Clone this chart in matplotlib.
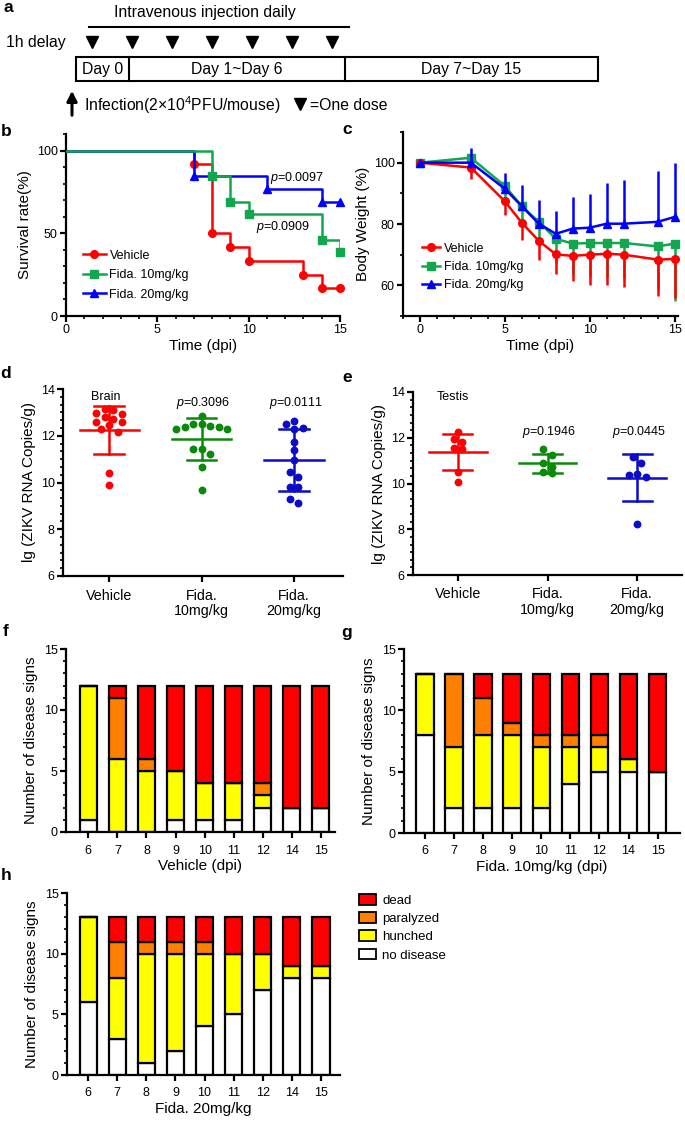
import numpy as np
import matplotlib
matplotlib.use("Agg")
import matplotlib.pyplot as plt
from matplotlib.patches import Rectangle, Patch
from matplotlib.lines import Line2D
from matplotlib.ticker import MultipleLocator, AutoMinorLocator

plt.rcParams['font.family'] = ['Liberation Sans', 'DejaVu Sans']
plt.rcParams['mathtext.fontset'] = 'custom'
plt.rcParams['mathtext.rm'] = 'Liberation Sans'
plt.rcParams['mathtext.it'] = 'Liberation Sans:italic'
plt.rcParams['mathtext.bf'] = 'Liberation Sans:bold'

# ---------------- data ----------------
# panel a
dose_days = [0, 1, 2, 3, 4, 5, 6]

# panel b : survival (Kaplan-Meier steps)
veh_t = [0, 7, 8, 9, 10, 13, 14, 15]
veh_s = [100, 91.7, 50, 41.7, 33.3, 25, 16.7, 16.7]
f10_t = [0, 8, 9, 10, 14, 15]
f10_s = [100, 84.6, 69.2, 61.5, 46.2, 38.5]
f20_t = [0, 7, 11, 14, 15]
f20_s = [100, 84.6, 76.9, 69.2, 69.2]
group_labels = ["Vehicle", "Fida. 10mg/kg", "Fida. 20mg/kg"]

# panel c : body weight
bw_days = [0, 3, 5, 6, 7, 8, 9, 10, 11, 12, 14, 15]
veh_bw = [100, 98.4, 87.4, 80.4, 74.5, 70.1, 69.6, 70.0, 70.3, 70.0, 68.4, 68.6]
veh_sd = [0, 3.6, 4.4, 5.5, 6.1, 6.3, 8.3, 9.8, 10.1, 10.5, 12.0, 12.6]
f10_bw = [100, 101.6, 92.4, 85.8, 80.7, 75.2, 73.6, 73.8, 73.8, 73.8, 72.7, 73.6]
f10_sd = [0, 2.0, 4.5, 6.5, 7.5, 8.0, 10.0, 11.0, 11.0, 11.5, 14.0, 18.7]
f20_bw = [100, 100, 91.5, 85.8, 80.1, 76.8, 78.5, 78.8, 80.1, 80.1, 80.7, 82.3]
f20_sd = [0, 4.9, 5.2, 7.0, 7.6, 7.4, 10.3, 11.1, 13.3, 14.4, 16.6, 17.7]

# panel d : brain viral load
brain_veh = [12.58, 12.94, 12.46, 13.11, 13.14, 12.96, 12.71, 12.79, 12.58, 12.27, 12.17, 10.40, 9.91]
brain_f10 = [12.50, 12.29, 12.39, 12.85, 12.42, 12.49, 12.37, 12.29, 11.42, 11.42, 11.24, 10.66, 9.68]
brain_f20 = [12.50, 12.29, 12.35, 12.65, 11.74, 11.41, 10.95, 10.23, 10.45, 9.80, 9.80, 9.28, 9.12]
brain_mean = [12.26, 11.86, 10.96]
brain_sd = [1.03, 0.91, 1.31]
brain_p = [None, "0.3096", "0.0111"]

# panel e : testis viral load
testis_veh = [12.27, 11.82, 11.93, 11.57, 11.50, 10.50, 10.06]
testis_f10 = [11.50, 11.23, 10.89, 10.71, 10.49, 10.46]
testis_f20 = [11.14, 10.89, 10.41, 10.39, 10.27, 8.22]
testis_mean = [11.38, 10.88, 10.25]
testis_sd = [0.78, 0.41, 1.03]
testis_p = [None, "0.1946", "0.0445"]
cat_labels = ["Vehicle", "Fida.\n10mg/kg", "Fida.\n20mg/kg"]

# panels f-h : disease signs
sign_days = ["6", "7", "8", "9", "10", "11", "12", "14", "15"]
sign_names = ["no disease", "hunched", "paralyzed", "dead"]
veh_nodis = [1, 0, 0, 1, 1, 1, 2, 2, 2]
veh_hunch = [11, 6, 5, 4, 3, 3, 1, 0, 0]
veh_paral = [0, 5, 1, 0, 0, 0, 1, 0, 0]
veh_dead = [0, 1, 6, 7, 8, 8, 8, 10, 10]
f10_nodis = [8, 2, 2, 2, 2, 4, 5, 5, 5]
f10_hunch = [5, 5, 6, 6, 5, 3, 2, 1, 0]
f10_paral = [0, 6, 3, 1, 1, 1, 1, 0, 0]
f10_dead = [0, 0, 2, 4, 5, 5, 5, 7, 8]
f20_nodis = [6, 3, 1, 2, 4, 5, 7, 8, 8]
f20_hunch = [7, 5, 9, 8, 6, 5, 3, 1, 1]
f20_paral = [0, 3, 1, 1, 1, 0, 0, 0, 0]
f20_dead = [0, 2, 2, 2, 2, 3, 3, 4, 4]

# ---------------- style ----------------
RED = '#FF0000'
GRN = '#12A64E'
BLU = '#0000FF'
GRN2 = '#0A8A0A'
BLU2 = '#0B0BC8'
SIGN_COLORS = ['#FFFFFF', '#FFFF00', '#FF8000', '#FF0000']
TICK_FS = 9
LAB_FS = 11
SPW = 1.6
A_FS = 11.3

W, H = 685, 1125
fig = plt.figure(figsize=(W / 100, H / 100), dpi=100)


def add_ax(l, t, r, b):
    return fig.add_axes([l / W, 1 - b / H, (r - l) / W, (b - t) / H])


def ftext(x, y, s, **kw):
    fig.text(x / W, 1 - y / H, s, **kw)


def style(ax):
    for s in ['top', 'right']:
        ax.spines[s].set_visible(False)
    for s in ['left', 'bottom']:
        ax.spines[s].set_linewidth(SPW)
    ax.tick_params(which='major', direction='out', length=4, width=SPW, labelsize=TICK_FS, pad=2)
    ax.tick_params(which='minor', direction='out', length=2.5, width=1.2)


# ---------------- panel a ----------------
axa = fig.add_axes([0, 1 - 120 / H, 1, 120 / H])
axa.set_xlim(0, W)
axa.set_ylim(120, 0)
axa.axis('off')
axa.text(205, 13, "Intravenous injection daily", ha='center', va='center', fontsize=A_FS)
axa.plot([89, 349], [27, 27], color='k', lw=1.5)
axa.text(6, 43, "1h delay", ha='left', va='center', fontsize=A_FS)
axa.plot([92 + 40 * d for d in dose_days], [42] * len(dose_days), 'kv', ms=8.5)
axa.add_patch(Rectangle((76, 57), 522, 24, fill=False, ec='k', lw=1.5))
axa.plot([129, 129], [57, 81], color='k', lw=1.5)
axa.plot([345, 345], [57, 81], color='k', lw=1.5)
axa.text(103, 69.5, "Day 0", ha='center', va='center', fontsize=A_FS)
axa.text(237, 69.5, "Day 1~Day 6", ha='center', va='center', fontsize=A_FS)
axa.text(471, 69.5, "Day 7~Day 15", ha='center', va='center', fontsize=A_FS)
axa.annotate('', xy=(72, 88), xytext=(72, 118),
             arrowprops=dict(arrowstyle='-|>', lw=2.2, color='k', mutation_scale=15))
axa.text(84, 105, r"Infection(2×10$^4$PFU/mouse)", ha='left', va='center', fontsize=A_FS)
axa.plot([300], [104], 'kv', ms=8.5)
axa.text(310, 105, "=One dose", ha='left', va='center', fontsize=A_FS)

# ---------------- panel b ----------------
axb = add_ax(66, 134, 340, 316)
style(axb)
surv = [(veh_t, veh_s, RED, 'o', 1), (f20_t, f20_s, BLU, '^', 2), (f10_t, f10_s, GRN, 's', 3)]
for t, s, c, m, z in surv:
    axb.step(t, s, where='post', color=c, lw=1.8, zorder=z)
    axb.plot(t[1:], s[1:], ls='none', marker=m, color=c, ms=5.5, zorder=z, clip_on=False)
axb.set_xlim(0, 15)
axb.set_ylim(0, 110)
axb.set_yticks([0, 50, 100])
axb.yaxis.set_minor_locator(MultipleLocator(10))
axb.set_xticks([0, 5, 10, 15])
axb.xaxis.set_minor_locator(MultipleLocator(1))
axb.set_xlabel("Time (dpi)", fontsize=LAB_FS, labelpad=2)
axb.set_ylabel("Survival rate(%)", fontsize=LAB_FS, labelpad=3)
axb.text(12.65, 83.3, r"$p$=0.0097", ha='center', va='center', fontsize=9)
axb.text(11.9, 53.9, r"$p$=0.0909", ha='center', va='center', fontsize=9)
hb = [Line2D([], [], color=RED, marker='o', lw=1.8, ms=5.5),
      Line2D([], [], color=GRN, marker='s', lw=1.8, ms=5.5),
      Line2D([], [], color=BLU, marker='^', lw=1.8, ms=5.5)]
axb.legend(hb, group_labels, loc='lower left', bbox_to_anchor=(0.04, 0.05), frameon=False,
           fontsize=9, handlelength=1.8, handletextpad=0.3, labelspacing=0.6, borderpad=0)

# ---------------- panel c ----------------
axc = add_ax(403, 132, 678, 316)
style(axc)
zeros = [0] * len(bw_days)
axc.errorbar(bw_days, veh_bw, yerr=[veh_sd, zeros], color=RED, marker='o', ms=5.5, lw=1.8,
             elinewidth=1.8, capsize=0, zorder=3, clip_on=False)
axc.errorbar(bw_days, f10_bw, yerr=[f10_sd, zeros], color=GRN, marker='s', ms=5.5, lw=1.8,
             elinewidth=1.8, capsize=0, zorder=2, clip_on=False)
axc.errorbar(bw_days, f20_bw, yerr=[zeros, f20_sd], color=BLU, marker='^', ms=5.5, lw=1.8,
             elinewidth=1.8, capsize=0, zorder=4, clip_on=False)
axc.set_xlim(-1, 15.2)
axc.set_ylim(50, 110)
axc.set_yticks([60, 80, 100])
axc.yaxis.set_minor_locator(MultipleLocator(10))
axc.set_xticks([0, 5, 10, 15])
axc.xaxis.set_minor_locator(MultipleLocator(1))
axc.set_xlabel("Time (dpi)", fontsize=LAB_FS, labelpad=2)
axc.set_ylabel("Body Weight (%)", fontsize=LAB_FS, labelpad=3)
axc.legend(hb, group_labels, loc='lower left', bbox_to_anchor=(0.045, 0.1), frameon=False,
           fontsize=9, handlelength=1.5, handletextpad=0.3, labelspacing=0.5, borderpad=0)


# ---------------- panels d, e ----------------
def row_offsets(ax, vals, diam_px=7.5, gap_px=8.5):
    """GraphPad-like scatter: bin values into horizontal rows, spread each row symmetrically."""
    bb = ax.get_position()
    x0, x1 = ax.get_xlim()
    y0, y1 = ax.get_ylim()
    xs = bb.width * W / (x1 - x0)
    ys = bb.height * H / (y1 - y0)
    vals = np.asarray(vals, float)
    order = list(np.argsort(-vals))
    offs = np.zeros(len(vals))
    while order:
        top = vals[order[0]]
        row = [i for i in order if (top - vals[i]) * ys < diam_px]
        order = [i for i in order if i not in row]
        n = len(row)
        slots = [(j - (n - 1) / 2) * gap_px for j in range(n)]
        slots.sort(key=lambda s: (abs(s), s))
        for i, s in zip(row, slots):
            offs[i] = s / xs
    return offs


def dot_panel(ax, groups, means, sds, xlim, title, title_xy, pvals, p_y):
    style(ax)
    ax.set_xlim(*xlim)
    ax.set_ylim(6, 14)
    cols = [RED, GRN2, BLU2]
    for k, (vals, m, sd) in enumerate(zip(groups, means, sds)):
        offs = row_offsets(ax, vals)
        ax.scatter(k + offs, vals, s=32, color=cols[k], zorder=3, linewidths=0)
        ax.plot([k - 0.32, k + 0.32], [m, m], color=cols[k], lw=1.8, zorder=2)
        ax.plot([k, k], [m - sd, m + sd], color=cols[k], lw=1.8, zorder=2)
        for yy in (m - sd, m + sd):
            ax.plot([k - 0.16, k + 0.16], [yy, yy], color=cols[k], lw=1.8, zorder=2)
        if pvals[k]:
            ax.text(k + 0.02, p_y, r"$p$=" + pvals[k], ha='center', va='center', fontsize=9)
    ax.text(title_xy[0], title_xy[1], title, ha='center', va='center', fontsize=9)
    ax.set_xticks([0, 1, 2])
    ax.set_xticklabels(cat_labels, fontsize=10.3, linespacing=1.1)
    ax.tick_params(axis='x', pad=5)
    ax.set_yticks([6, 8, 10, 12, 14])
    ax.yaxis.set_minor_locator(AutoMinorLocator(6))
    ax.set_ylabel("lg (ZIKV RNA Copies/g)", fontsize=LAB_FS, labelpad=3)


axd = add_ax(63, 389, 343, 576)
dot_panel(axd, [brain_veh, brain_f10, brain_f20], brain_mean, brain_sd, (-0.5, 2.53),
          "Brain", (-0.04, 13.67), brain_p, 13.41)
axe = add_ax(413, 392, 682, 575)
dot_panel(axe, [testis_veh, testis_f10, testis_f20], testis_mean, testis_sd, (-0.5, 2.5),
          "Testis", (-0.05, 13.8), testis_p, 12.26)


# ---------------- panels f, g, h ----------------
def sign_panel(ax, layers, xlim, xlabel):
    style(ax)
    x = np.arange(len(sign_days))
    bottom = np.zeros(len(sign_days))
    for vals, col in zip(layers, SIGN_COLORS):
        ax.bar(x, vals, bottom=bottom, width=0.6, color=col, edgecolor='k', linewidth=1.6, zorder=2)
        bottom = bottom + np.asarray(vals)
    ax.set_xlim(*xlim)
    ax.set_ylim(0, 15)
    ax.set_yticks([0, 5, 10, 15])
    ax.yaxis.set_minor_locator(MultipleLocator(1))
    ax.set_xticks(x)
    ax.set_xticklabels(sign_days, fontsize=TICK_FS)
    ax.tick_params(axis='x', pad=5)
    ax.set_xlabel(xlabel, fontsize=LAB_FS, labelpad=2)
    ax.set_ylabel("Number of disease signs", fontsize=LAB_FS, labelpad=4)


axf = add_ax(66, 649, 335, 832)
sign_panel(axf, [veh_nodis, veh_hunch, veh_paral, veh_dead], (-0.77, 8.49), "Vehicle (dpi)")
axg = add_ax(404, 649, 680, 833)
sign_panel(axg, [f10_nodis, f10_hunch, f10_paral, f10_dead], (-0.72, 8.77), "Fida. 10mg/kg (dpi)")
axh = add_ax(67, 893, 340, 1075)
sign_panel(axh, [f20_nodis, f20_hunch, f20_paral, f20_dead], (-0.73, 8.66), "Fida. 20mg/kg")

leg_handles = [Patch(facecolor=c, edgecolor='k', linewidth=1.3) for c in SIGN_COLORS[::-1]]
fig.legend(leg_handles, sign_names[::-1], loc='upper left', bbox_to_anchor=(352 / W, 1 - 887 / H),
           frameon=False, fontsize=9.5, handlelength=1.3, handleheight=0.9, handletextpad=0.5,
           labelspacing=0.4, borderpad=0)

# ---------------- panel letters ----------------
for lab, x, y in [("a", 8, 8), ("b", 6, 132), ("c", 347, 130), ("d", 6, 373), ("e", 347, 377),
                  ("f", 6, 632), ("g", 347, 633), ("h", 6, 876)]:
    ftext(x, y, lab, fontsize=12.5, fontweight='bold', ha='center', va='center')

fig.savefig("out.png", dpi=100)
